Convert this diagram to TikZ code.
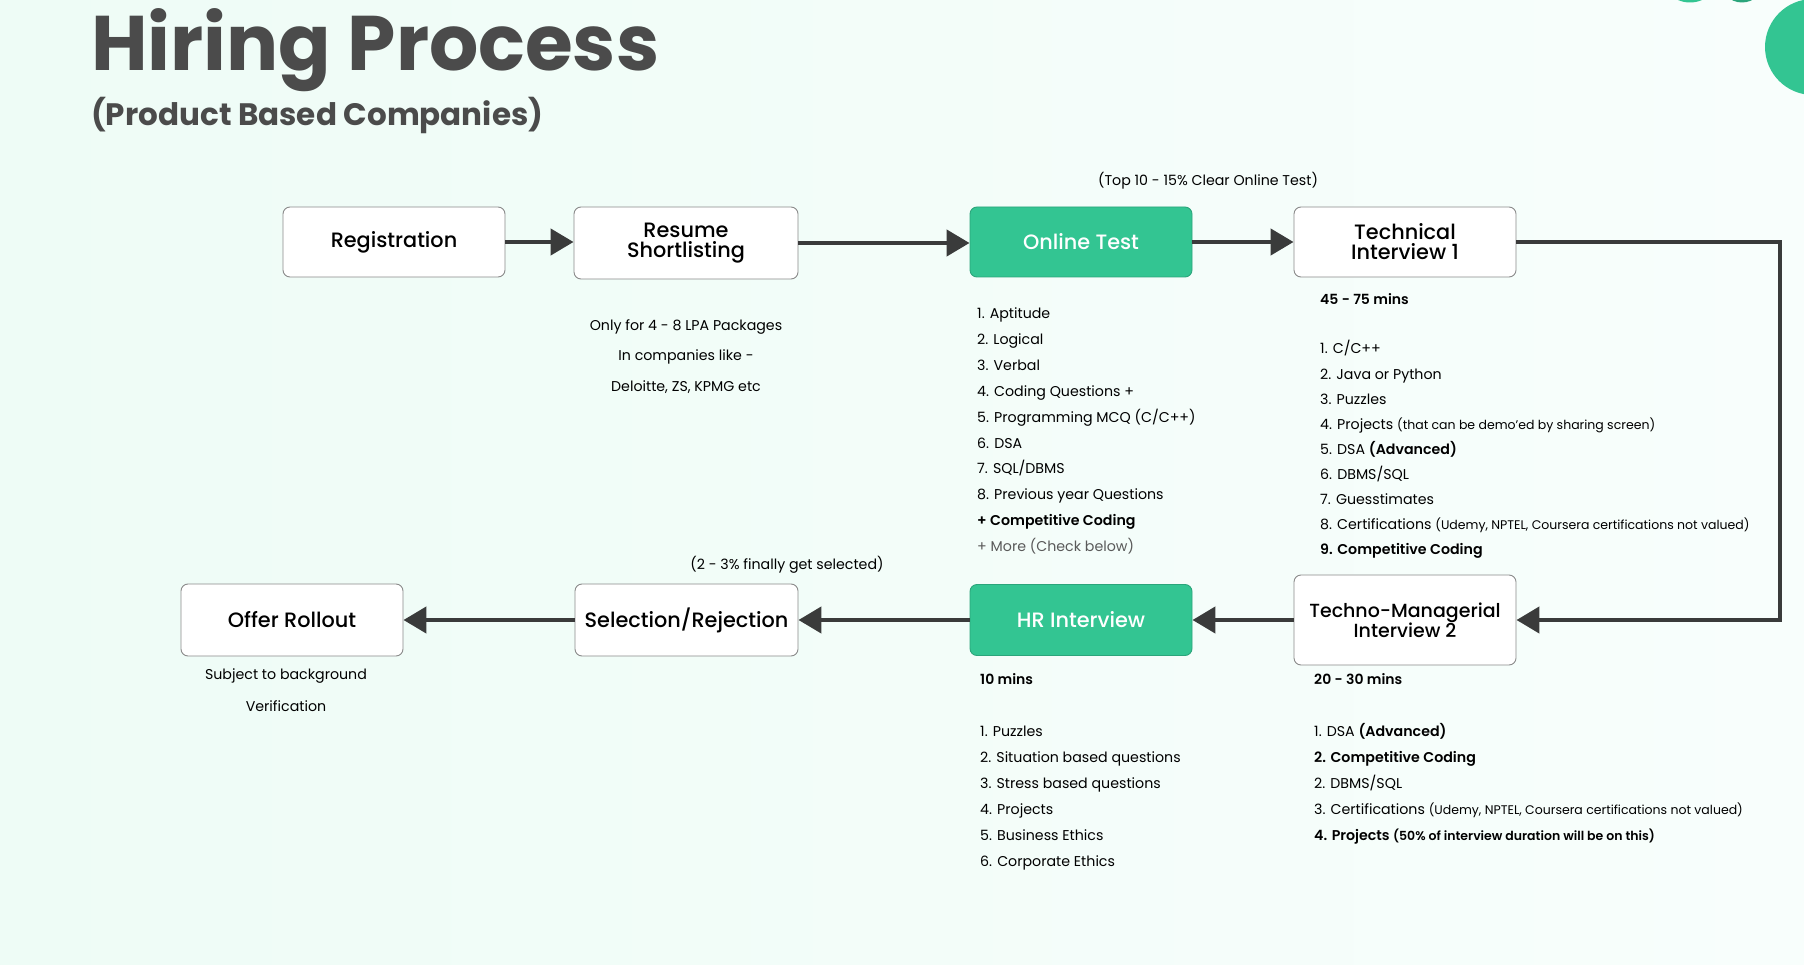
\documentclass[tikz,border=0pt]{standalone}
\usepackage{fontspec}
\setmainfont{Poppins}
\newfontfamily\pmed{Poppins Medium}
\newfontfamily\psemi{Poppins SemiBold}
\usetikzlibrary{arrows.meta}
\definecolor{bgl}{HTML}{EEFCF6}
\definecolor{bgr}{HTML}{F8FEFC}
\definecolor{grn}{HTML}{33C592}
\definecolor{grnd}{HTML}{2BA57B}
\definecolor{ln}{HTML}{3A3B3B}
\definecolor{ttl}{HTML}{4B4B4B}
\definecolor{mor}{HTML}{5A5A5A}
\definecolor{bx}{HTML}{8A8A8A}
\newcommand\smallpar[1]{{\fontsize{12.5}{14}\selectfont #1}}
\begin{document}
\begin{tikzpicture}[x=1pt,y=-1pt,
 stepbox/.style={draw=bx, line width=0.9pt, fill=white, rounded corners=7pt, minimum width=222pt, minimum height=70pt, align=center, font=\pmed\fontsize{20.8}{20}\selectfont, text=black, inner sep=0pt},
 greenbox/.style={stepbox, fill=grn, draw=grnd, text=white},
 flow/.style={draw=ln, line width=4.5pt, -{Triangle[length=23pt,width=26pt]}},
 note/.style={font=\fontsize{14.2}{17}\selectfont, text=black, inner sep=0pt},
 item/.style={anchor=west, font=\fontsize{14.2}{17}\selectfont, inner sep=0pt, text=black, text height=11pt, text depth=3pt},
 head/.style={item, font=\psemi\fontsize{14}{17}\selectfont}
]
\useasboundingbox (0,0) rectangle (1804,965);
\shade[left color=bgl, right color=bgr] (0,0) rectangle (1804,965);
% decorative circles
\fill[grn] (1813,47) circle (48);
\fill[grn] (1690,-27.5) circle (30);
\fill[grnd] (1742,-19.5) circle (22);
% titles
\node[anchor=base west, inner sep=0pt, font=\bfseries\fontsize{77.4}{77}\selectfont, text=ttl] (title) at (91,71) {Hiring Process};
\node[anchor=base west, inner sep=0pt, font=\bfseries\fontsize{31}{31}\selectfont, text=ttl] (subtitle) at (91,126) {(Product Based Companies)};
% boxes
\node[stepbox] (reg) at (394,242) {Registration};
\node[stepbox, minimum width=224pt, minimum height=72pt] (res) at (686,243) {Resume\\Shortlisting};
\node[greenbox] (ot) at (1081,242) {Online Test};
\node[stepbox] (t1) at (1405,242) {Technical\\Interview 1};
\node[stepbox, minimum height=90pt, font=\pmed\fontsize{19}{20}\selectfont] (t2) at (1405,620) {Techno-Managerial\\Interview 2};
\node[greenbox, minimum height=71pt] (hr) at (1081,620) {HR Interview};
\node[stepbox, minimum width=223pt, minimum height=72pt] (sel) at (686.5,620) {Selection/Rejection};
\node[stepbox, minimum height=72pt] (off) at (292,620) {Offer Rollout};
% connectors
\coordinate (corner) at (1780,242);
\draw[flow] (reg.east) -- (reg.east -| res.west);
\draw[flow] (res.east) -- (res.east -| ot.west);
\draw[flow] (ot.east) -- (t1.west);
\draw[flow] (t1.east) -- (corner) |- (t2.east);
\draw[flow] (t2.west) -- (hr.east);
\draw[flow] (hr.west) -- (sel.east);
\draw[flow] (sel.west) -- (off.east);
% notes
\node[note] (n1) at (1208,181) {(Top 10 - 15\% Clear Online Test)};
\node[note] (n2) at (787,565) {(2 - 3\% finally get selected)};
\node[note] (r1) at (686,327) {Only for 4 - 8 LPA Packages};
\node[note] (r2) at (686,357) {In companies like -};
\node[note] (r3) at (686,387) {Deloitte, ZS, KPMG etc};
\node[note] (o1) at (286,676) {Subject to background};
\node[note] (o2) at (286,706) {Verification};
% online test list
\foreach \t [count=\i from 0] in {{1. Aptitude},{2. Logical},{3. Verbal},{4. Coding Questions +},{5. Programming MCQ (C/C++)},{6. DSA},{7. SQL/DBMS},{8. Previous year Questions},{\psemi + Competitive Coding},{\color{mor}+ More (Check below)}}
  \node[item] (ol\i) at (977,314.5+25.9*\i) {\t};
% technical interview 1
\node[head] (t1h) at (1320,300.5) {45 - 75 mins};
\foreach \t [count=\i from 0] in {{1. C/C++},{2. Java or Python},{3. Puzzles},{4. Projects \smallpar{(that can be demo’ed by sharing screen)}},{5. DSA {\psemi (Advanced)}},{6. DBMS/SQL},{7. Guesstimates},{8. Certifications \smallpar{(Udemy, NPTEL, Coursera certifications not valued)}},{\psemi 9. Competitive Coding}}
  \node[item] (tl\i) at (1320,350+25.1*\i) {\t};
% HR list
\node[head] (hrh) at (980,680.5) {10 mins};
\foreach \t [count=\i from 0] in {{1. Puzzles},{2. Situation based questions},{3. Stress based questions},{4. Projects},{5. Business Ethics},{6. Corporate Ethics}}
  \node[item] (hl\i) at (980,732.5+26*\i) {\t};
% techno-managerial list
\node[head] (t2h) at (1314,680.5) {20 - 30 mins};
\foreach \t [count=\i from 0] in {{1. DSA {\psemi (Advanced)}},{\psemi 2. Competitive Coding},{2. DBMS/SQL},{3. Certifications \smallpar{(Udemy, NPTEL, Coursera certifications not valued)}},{\psemi 4. Projects \smallpar{(50\% of interview duration will be on this)}}}
  \node[item] (ml\i) at (1314,732.5+26*\i) {\t};
\end{tikzpicture}
\end{document}
